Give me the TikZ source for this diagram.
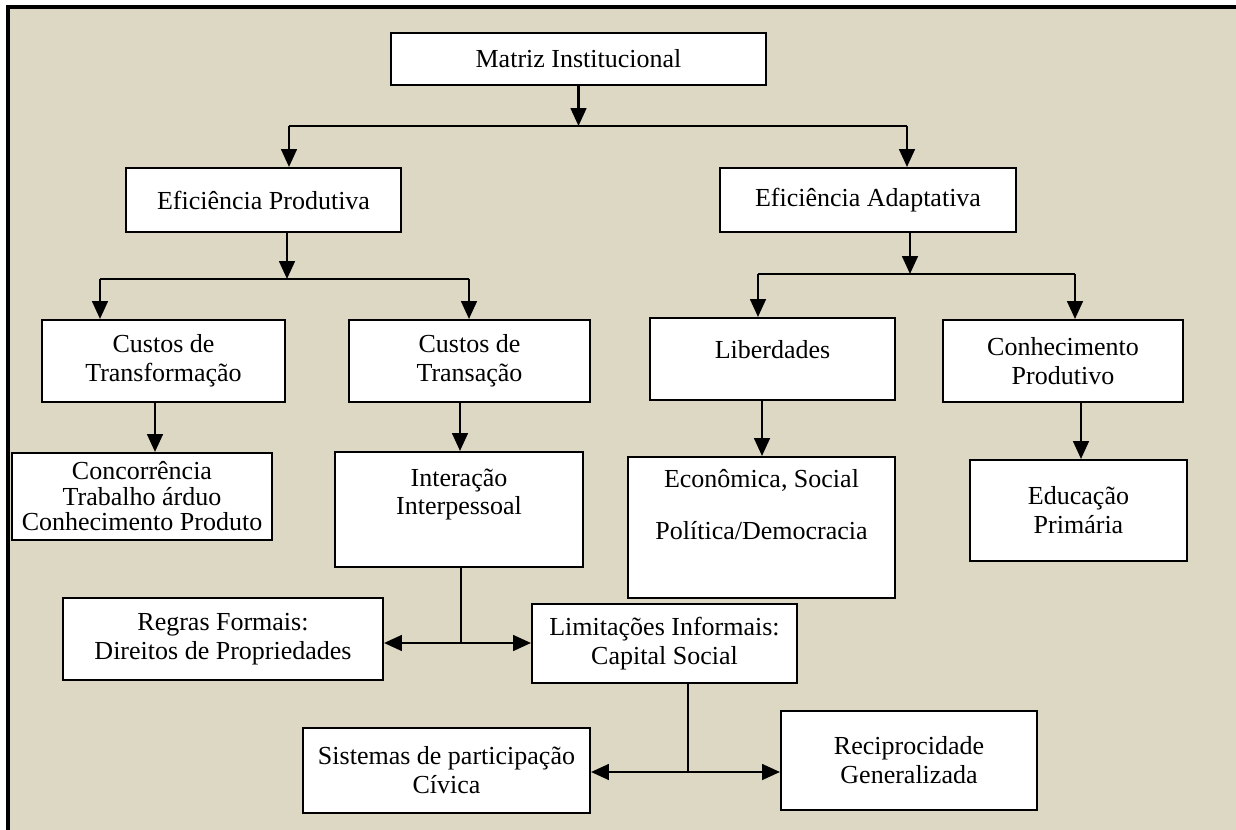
\documentclass[tikz,border=0pt]{standalone}
\usepackage{fontspec}
\setmainfont{Liberation Serif}
\usetikzlibrary{arrows.meta,positioning}
\definecolor{fundo}{RGB}{221,216,196}

\begin{document}
\begin{tikzpicture}[x=0.45pt,y=-0.45pt,
		box/.style 2 args={draw,fill=white,line width=0.9pt,align=center,inner sep=0pt,
			minimum width=#1*0.45pt,minimum height=#2*0.45pt,font=\fontsize{11.7}{13}\selectfont},
		seta/.style={-{Triangle[length=8pt,width=7pt]},line width=1.1pt},
		dupla/.style={{Triangle[length=8pt,width=7pt]}-{Triangle[length=8pt,width=7pt]},line width=1.1pt},
		liga/.style={line width=0.9pt}]
			\useasboundingbox (0,0) rectangle (1236,830);
			\fill[fundo] (8,7) rectangle (1250,845);
			\draw[line width=1.4pt] (8,845) -- (8,7) -- (1250,7);

			\node[box={375}{52}] (MI) at (578.5,59) {Matriz Institucional};
			\node[box={275}{64}] (EP) at (263.5,200) {Eficiência Produtiva};
			\node[box={296}{64}] (EA) at (868,200) {Eficiência Adaptativa};
			\node[box={243}{82}] (CTf) at (163.5,361) {Custos de\\Transformação};
			\node[box={241}{82}] (CTs) at (469.5,361) {Custos de\\Transação};
			\node[box={245}{82}] (LB) at (772.5,359) {Liberdades\\[-4.5pt]{}};
			\node[box={240}{82}] (CP) at (1063,361) {Conhecimento\\Produtivo};
			\node[box={260}{87},font=\fontsize{11.7}{11.5}\selectfont] (CC) at (142,496.5) {Concorrência\\Trabalho árduo\\Conhecimento Produto};
			\node[box={248}{115}] (II) at (459,509.5) {Interação\\Interpessoal\\[3pt]{}};
			\node[box={267}{141}] (EC) at (761.5,527.5) {Econômica, Social\\[10.5pt]Política/Democracia\\[8pt]{}};
			\node[box={217}{101}] (ED) at (1078.5,510.5) {Educação\\Primária};
			\node[box={320}{82}] (RF) at (223,639) {Regras Formais:\\Direitos de Propriedades};
			\node[box={265}{79}] (LI) at (664.5,643.5) {Limitações Informais:\\Capital Social};
			\node[box={287}{85}] (SP) at (446.5,770) {Sistemas de participação\\Cívica};
			\node[box={256}{99}] (RG) at (909,760.5) {Reciprocidade\\Generalizada};

			% primeiro nivel
			\coordinate (r1e) at (289,126);
			\coordinate (r1d) at (907,126);
			\draw[seta] (MI.south) -- (MI.south |- r1e);
			\draw[liga] (r1e) -- (r1d);
			\draw[seta] (r1e) -- (r1e |- EP.north);
			\draw[seta] (r1d) -- (r1d |- EA.north);

			% eficiencia produtiva
			\coordinate (r2) at (287,279);
			\coordinate (r2e) at (100,279);
			\coordinate (r2d) at (469,279);
			\draw[seta] (r2 |- EP.south) -- (r2);
			\draw[liga] (r2e) -- (r2d);
			\draw[seta] (r2e) -- (r2e |- CTf.north);
			\draw[seta] (r2d) -- (r2d |- CTs.north);

			% eficiencia adaptativa
			\coordinate (r3) at (910,274);
			\coordinate (r3e) at (758,274);
			\coordinate (r3d) at (1075,274);
			\draw[seta] (r3 |- EA.south) -- (r3);
			\draw[liga] (r3e) -- (r3d);
			\draw[seta] (r3e) -- (r3e |- LB.north);
			\draw[seta] (r3d) -- (r3d |- CP.north);

			\draw[seta] (CTf.south -| 155,0) -- (CC.north -| 155,0);
			\draw[seta] (CTs.south -| 460,0) -- (II.north -| 460,0);
			\draw[seta] (LB.south -| 762,0) -- (EC.north -| 762,0);
			\draw[seta] (CP.south -| 1081,0) -- (ED.north -| 1081,0);

			% regras e limitacoes
			\coordinate (m1) at (461,643);
			\draw[liga] (II.south -| m1) -- (m1);
			\draw[dupla] (RF.east |- m1) -- (LI.west |- m1);

			\coordinate (m2) at (688,772);
			\draw[liga] (LI.south -| m2) -- (m2);
			\draw[dupla] (SP.east |- m2) -- (RG.west |- m2);
		\end{tikzpicture}
\end{document}
